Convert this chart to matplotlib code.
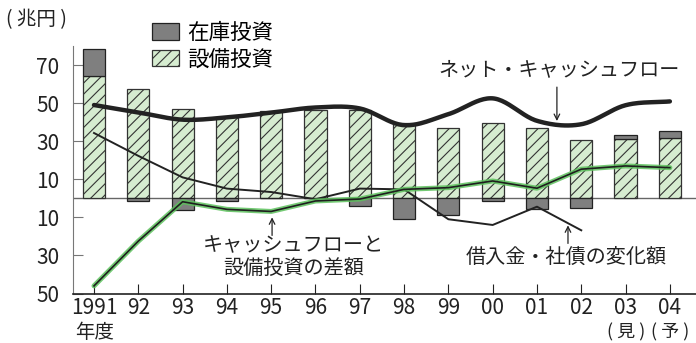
import numpy as np
import matplotlib
matplotlib.use("Agg")
import matplotlib.pyplot as plt
from matplotlib.patches import Patch

plt.rcParams['font.family'] = ['Noto Sans CJK JP', 'DejaVu Sans']
plt.rcParams['hatch.linewidth'] = 0.8

# --- data (兆円) ---
years = ["1991", "92", "93", "94", "95", "96", "97", "98", "99", "00", "01", "02", "03", "04"]
capex = [64.2, 57.5, 46.8, 42.6, 45.6, 46.3, 46.5, 39.8, 36.7, 39.5, 36.7, 30.4, 30.9, 31.9]
inventory = [14.0, -1.6, -6.2, -1.6, 0.0, 0.0, -4.0, -10.7, -8.6, -1.4, -5.4, -5.1, 2.6, 3.2]
net_cf = [49.0, 45.1, 41.3, 42.5, 45.0, 47.7, 47.2, 38.4, 44.2, 52.5, 40.7, 38.9, 48.9, 50.9]
borrow = [34.3, 22.3, 11.0, 5.1, 3.3, -0.5, 5.1, 4.7, -11.0, -14.0, -4.4, -16.8]
cf_gap = [-46.0, -22.5, -1.8, -5.8, -6.9, -1.4, -0.4, 4.7, 5.6, 9.1, 5.3, 15.3, 17.0, 16.1]
yticks = [70, 50, 30, 10, -10, -30, -50]


def smooth(xv, yv, n=24):
    """Catmull-Rom curve through the yearly points (for the smooth CF line)."""
    xv = np.asarray(xv, float); yv = np.asarray(yv, float)
    px = np.r_[2 * xv[0] - xv[1], xv, 2 * xv[-1] - xv[-2]]
    py = np.r_[2 * yv[0] - yv[1], yv, 2 * yv[-1] - yv[-2]]
    t = np.linspace(0, 1, n, endpoint=False)
    ox, oy = [], []
    for i in range(len(xv) - 1):
        for P, out in ((px, ox), (py, oy)):
            p0, p1, p2, p3 = P[i:i + 4]
            out.append(0.5 * (2 * p1 + (-p0 + p2) * t + (2 * p0 - 5 * p1 + 4 * p2 - p3) * t ** 2
                              + (-p0 + 3 * p1 - 3 * p2 + p3) * t ** 3))
    return np.r_[np.concatenate(ox), xv[-1]], np.r_[np.concatenate(oy), yv[-1]]


x = np.arange(len(years))
inv = np.array(inventory)
inv_bottom = np.where(inv > 0, capex, 0)

fig = plt.figure(figsize=(6.96, 3.43), dpi=100)
ax = fig.add_axes([73 / 696, 1 - 293.5 / 343, 1 - 73 / 696, (293.5 - 46) / 343])

ax.bar(x, capex, width=0.5, color="#d6ecd0", edgecolor="#333333", hatch="///", lw=0.9, zorder=2)
ax.bar(x, inv, bottom=inv_bottom, width=0.5, color="#7f7f7f", edgecolor="#222222", lw=0.9, zorder=2)
ax.axhline(0, color="#666666", lw=1.0, zorder=1)

sx, sy = smooth(x, net_cf)
ax.plot(sx, sy, color="#222222", lw=3.2, solid_capstyle="round", zorder=4)
ax.plot(x[:len(borrow)], borrow, color="#222222", lw=1.4, zorder=4)
ax.plot(x, cf_gap, color="#5cc15c", lw=3.6, alpha=0.85, solid_capstyle="round", zorder=4)
ax.plot(x, cf_gap, color="#1f1f1f", lw=1.2, zorder=5)

ax.set_xlim(-0.474, 13.59)
ax.set_ylim(-50, 80)
ax.set_yticks(yticks)
ax.set_yticklabels([str(abs(v)) for v in yticks])
ax.set_xticks(x)
ax.set_xticklabels(years)
ax.tick_params(axis="both", direction="in", length=7, labelsize=15, colors="#222222")
ax.tick_params(axis="y", color="#777777", pad=10)
ax.tick_params(axis="x", pad=2.5)
for s in ("top", "right"):
    ax.spines[s].set_visible(False)
ax.spines["left"].set_color("#777777")
ax.spines["bottom"].set_color("#222222")
ax.spines["bottom"].set_linewidth(1.2)

# annotations
arrow = dict(arrowstyle="->", color="#222222", lw=0.9, shrinkA=0, shrinkB=0)
ax.text(10.5, 67.5, "ネット・キャッシュフロー", ha="center", va="center", fontsize=14.5, color="#222222")
ax.annotate("", xy=(10.45, 40.6), xytext=(10.45, 58.4), arrowprops=arrow)
ax.text(4.5, -30.8, "キャッシュフローと\n設備投資の差額", ha="center", va="center",
        fontsize=14.5, linespacing=1.1, color="#222222")
ax.annotate("", xy=(4.02, -10.0), xytext=(4.02, -19.5), arrowprops=arrow)
ax.text(10.67, -31.0, "借入金・社債の変化額", ha="center", va="center", fontsize=14.5, color="#222222")
ax.annotate("", xy=(10.7, -14.2), xytext=(10.7, -23.7), arrowprops=arrow)

handles = [Patch(facecolor="#7f7f7f", edgecolor="#222222", lw=0.9),
           Patch(facecolor="#d6ecd0", edgecolor="#333333", hatch="///", lw=0.9)]
fig.legend(handles, ["在庫投資", "設備投資"], loc="upper left",
           bbox_to_anchor=(152 / 696, 1 - 22 / 343), frameon=False, fontsize=15.5,
           handlelength=1.25, handleheight=0.8, handletextpad=0.4, labelspacing=0.2,
           borderpad=0, borderaxespad=0)

fig.text(6 / 696, 1 - 20 / 343, "( 兆円 )", ha="left", va="center", fontsize=14, color="#222222")
fig.text(95 / 696, 1 - 332 / 343, "年度", ha="center", va="center", fontsize=14, color="#222222")
fig.text(626 / 696, 1 - 332 / 343, "( 見 )", ha="center", va="center", fontsize=13, color="#222222")
fig.text(670 / 696, 1 - 332 / 343, "( 予 )", ha="center", va="center", fontsize=13, color="#222222")

fig.savefig("out.png", dpi=100)
